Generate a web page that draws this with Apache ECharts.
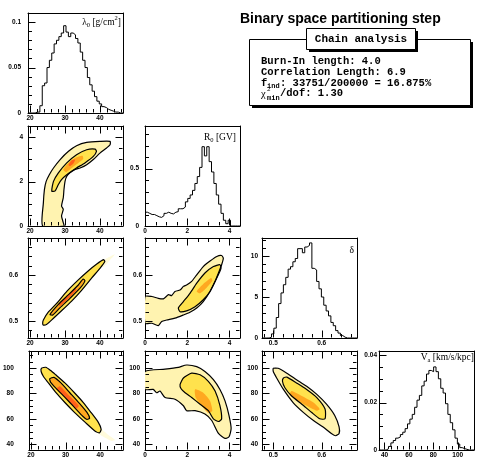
<!DOCTYPE html>
<html><head><meta charset="utf-8">
<script src="https://cdn.jsdelivr.net/npm/echarts@6/dist/echarts.min.js"></script>
<style>html,body{margin:0;padding:0;background:#fff}#c{width:478px;height:459px}</style>
</head><body><div id="c"></div>
<script>
// ---------- tick labels ----------
const lamTicks = [20, 30, 40];
const r0Ticks = [0, 2, 4];
const deltaTicks = [0.5, 0.6];
const vaTicks = [40, 60, 80, 100];
const lamHistTicks = [0, 0.05, 0.1];
const r0HistTicks = [0, 0.5];
const deltaHistTicks = [0, 5, 10];
const vaHistTicks = [0, 0.02, 0.04];

// ---------- 1D histograms (bin low edge, bin width, contents) ----------
const lamBinLow = 19.4, lamBinWidth = 0.68;
const lamHist = [0,0,0,0.001,0.001,0.008,0.030,0.033,0.050,0.058,0.066,0.076,0.080,0.084,0.088,0.096,0.089,0.084,0.088,0.086,0.082,0.077,0.067,0.058,0.050,0.039,0.031,0.024,0.018,0.013,0.010,0.007,0.006,0.004,0.003,0.002,0.001,0.001,0,0];
const r0BinLow = 0, r0BinWidth = 0.1125;
const r0Hist = [0.12,0.11,0.10,0.10,0.09,0.08,0.075,0.09,0.11,0.12,0.11,0.105,0.12,0.125,0.15,0.15,0.165,0.21,0.24,0.27,0.31,0.37,0.43,0.51,0.69,0.61,0.69,0.56,0.47,0.37,0.27,0.19,0.11,0.05,0.02,0.05,0,0,0,0];
const deltaBinLow = 0.4767, deltaBinWidth = 0.0049075;
const deltaHist = [0,0,0,0.1,0.5,1.2,2.5,4.2,5.5,6.5,7.4,8.4,8.7,9.3,9.7,10.9,10.9,10.4,11.1,11.3,11.6,8.5,8.3,6.9,6.0,5.0,4.0,3.3,2.7,1.9,1.5,0.9,0.6,0.3,0.1,0,0,0,0,0];
const vaBinLow = 35.5, vaBinWidth = 1.945;
const vaHist = [0,0,0,0.0005,0.0015,0.003,0.004,0.005,0.0055,0.0065,0.0075,0.009,0.011,0.013,0.015,0.018,0.021,0.023,0.027,0.029,0.032,0.0335,0.033,0.035,0.033,0.030,0.026,0.024,0.0195,0.015,0.0115,0.0085,0.005,0.0025,0.001,0.0006,0.0003,0,0,0];

// ---------- 2D posterior regions (contours & density cores) ----------
const lamR0Outer = [[23.6,0],[23.8,1.04],[24.1,1.64],[24.6,2.01],[25.5,2.31],[26.7,2.61],[28.6,2.99],[31.0,3.36],[33.3,3.61],[36.2,3.76],[40.0,3.81],[42.9,3.81],[42.9,3.66],[41.9,3.51],[40.0,3.28],[38.1,2.99],[36.2,2.76],[34.3,2.61],[32.9,2.54],[31.4,2.39],[30.5,2.24],[30.0,2.01],[29.7,1.64],[29.5,1.27],[29.0,0.90],[29.5,0.75],[29.0,0.45],[29.5,0.15],[29.7,0]];
const lamR0Inner = [[26.2,1.57],[26.7,2.01],[28.1,2.39],[30.5,2.84],[33.3,3.21],[36.2,3.43],[38.6,3.46],[39.0,3.36],[38.1,3.13],[35.7,2.84],[33.3,2.61],[30.5,2.31],[29.0,2.09],[28.1,1.87],[27.1,1.57]];
const lamR0Core = [[29.5,2.54],[31.0,2.84],[32.9,3.06],[35.0,3.16],[35.2,3.01],[33.8,2.84],[31.9,2.61],[30.3,2.42]];
const lamR0Hot = [[31.0,2.76],[31.9,2.96],[32.9,2.99],[32.4,2.81],[31.4,2.69]];

const lamDeltaOuter = [[23.6,0.495],[23.8,0.502],[25.2,0.519],[27.6,0.538],[30.5,0.564],[33.8,0.589],[36.7,0.609],[39.0,0.623],[41.0,0.633],[41.4,0.629],[40.0,0.614],[37.6,0.593],[34.8,0.567],[31.9,0.543],[29.0,0.522],[26.7,0.506],[24.8,0.493],[23.8,0.491]];
const lamDeltaInner = [[25.7,0.514],[28.1,0.536],[31.0,0.557],[33.8,0.578],[35.2,0.591],[35.7,0.587],[34.3,0.571],[31.4,0.549],[28.6,0.529],[26.5,0.513]];
const lamDeltaHot = [[28.1,0.536],[30.5,0.554],[32.9,0.571],[33.3,0.567],[31.0,0.549],[28.6,0.532]];
const lamDeltaTail = [[39.9,0.623],[41.9,0.636],[44.3,0.645],[43.3,0.636],[41.0,0.617]];

const r0DeltaOuter = [[0,0.553],[0.32,0.553],[0.63,0.549],[0.87,0.548],[1.11,0.557],[1.26,0.555],[1.42,0.564],[1.66,0.567],[1.82,0.575],[1.97,0.578],[2.21,0.586],[2.45,0.600],[2.76,0.618],[3.08,0.630],[3.40,0.640],[3.63,0.642],[3.71,0.636],[3.63,0.622],[3.48,0.604],[3.32,0.586],[3.08,0.564],[2.76,0.542],[2.45,0.528],[2.13,0.519],[1.82,0.513],[1.42,0.506],[1.03,0.502],[0.79,0.499],[0.63,0.490],[0.32,0.495],[0,0.495]];
const r0DeltaInner = [[1.66,0.520],[1.58,0.528],[1.82,0.542],[2.13,0.560],[2.45,0.582],[2.84,0.604],[3.24,0.618],[3.55,0.622],[3.60,0.614],[3.40,0.593],[3.08,0.564],[2.76,0.546],[2.37,0.531],[1.97,0.522]];
const r0DeltaCore = [[2.45,0.564],[2.76,0.580],[3.13,0.593],[3.19,0.587],[2.92,0.572],[2.61,0.560]];

const lamVaOuter = [[23.05,99.7],[24.29,100.5],[25.71,97.9],[27.14,94.6],[29.81,88.2],[32.57,80.5],[35.14,72.8],[37.33,65.1],[39.43,57.4],[40.29,51.8],[39.81,49.0],[38.57,50.3],[35.62,57.4],[32.57,65.1],[29.81,72.8],[27.24,80.5],[25.05,88.2],[23.62,93.3],[22.95,97.2]];
const lamVaInner = [[26.67,92.6],[28.67,88.2],[31.24,80.5],[33.81,72.8],[36.19,65.1],[36.95,60.5],[36.19,59.5],[35.05,61.8],[32.57,69.0],[29.90,76.7],[27.33,83.8],[25.71,88.7],[25.43,91.5]];
const lamVaHot = [[28.38,85.6],[30.95,78.5],[33.81,70.3],[33.14,68.2],[30.29,75.9],[27.43,83.6]];
const lamVaTail = [[38.57,50.3],[40.29,51.8],[42.38,47.2],[44.29,43.3],[43.33,42.6],[40.95,45.9]];

const r0VaOuter = [[0,97.2],[0.95,99.0],[1.58,100.5],[1.97,102.3],[2.45,101.0],[2.84,97.2],[3.24,90.8],[3.55,83.1],[3.79,74.1],[3.98,62.6],[4.08,52.3],[3.98,45.9],[3.79,44.6],[3.48,48.5],[3.16,58.7],[2.84,63.8],[2.37,66.4],[1.97,66.4],[1.82,70.3],[1.42,75.4],[0.95,76.7],[0.71,81.8],[0.55,80.5],[0.39,83.1],[0,83.1]];
const r0VaInner = [[1.66,86.9],[1.82,92.1],[2.21,95.9],[2.61,94.6],[3.0,89.5],[3.32,81.8],[3.55,70.3],[3.63,60.0],[3.48,57.9],[3.24,60.0],[3.0,66.4],[2.61,71.5],[2.21,76.7],[1.90,80.5],[1.71,83.6]];
const r0VaCore = [[2.37,83.1],[2.76,80.5],[3.08,74.1],[3.19,66.4],[3.0,64.6],[2.68,70.3],[2.4,76.7]];

const deltaVaOuter = [[0.500,99.7],[0.510,99.7],[0.528,95.9],[0.548,90.8],[0.569,85.6],[0.590,79.2],[0.610,71.5],[0.627,62.6],[0.636,53.6],[0.636,48.5],[0.629,46.7],[0.620,48.5],[0.603,53.6],[0.583,58.7],[0.562,65.1],[0.541,72.8],[0.521,83.1],[0.507,92.1],[0.500,97.2]];
const deltaVaInner = [[0.521,92.1],[0.528,92.8],[0.548,88.2],[0.569,83.1],[0.590,76.7],[0.607,67.7],[0.607,60.0],[0.596,60.0],[0.579,65.1],[0.559,71.5],[0.538,77.9],[0.524,84.4],[0.519,89.5]];
const deltaVaCore = [[0.538,81.8],[0.559,77.9],[0.583,72.8],[0.596,67.7],[0.590,66.4],[0.569,70.3],[0.545,75.4],[0.534,79.2]];

// ---------- layout / styles ----------
const W = 95, H = 100;
const colLeft = [28, 145, 262, 379];
const rowTop = [13, 126, 238, 351];
const pal = {pale:'#fffbdc', l1:'#fff3b0', l2:'#ffe24d', l3:'#ffa820', l4:'#ff5f1a'};

const AX = {
  lam: {min:19.4, max:46.6, major:lamTicks, minorStep:2, minorFrom:20},
  r0:  {min:0, max:4.5, major:r0Ticks, minorStep:0.5, minorFrom:0},
  dx:  {min:0.4767, max:0.673, major:deltaTicks, minorStep:0.02, minorFrom:0.48},
  dy:  {min:0.463, max:0.68, major:deltaTicks, minorStep:0.02, minorFrom:0.48},
  va:  {min:35.5, max:113.3, major:vaTicks, minorStep:5, minorFrom:40},
  hl:  {min:0, max:0.11, major:lamHistTicks, minorStep:0.01, minorFrom:0},
  hr:  {min:0, max:0.87, major:r0HistTicks, minorStep:0.1, minorFrom:0},
  hd:  {min:0, max:12.2, major:deltaHistTicks, minorStep:1, minorFrom:0},
  hv:  {min:0, max:0.0417, major:vaHistTicks, minorStep:0.005, minorFrom:0}
};

const panels = [
  {r:0,c:0,x:'lam',y:'hl',ym:7, hist:[lamBinLow,lamBinWidth,lamHist]},
  {r:1,c:0,x:'lam',y:'r0',ym:5, fills:[[lamR0Outer,'l1'],[lamR0Inner,'l2'],[lamR0Core,'l3'],[lamR0Hot,'l4']], lines:[lamR0Outer,lamR0Inner]},
  {r:1,c:1,x:'r0',y:'hr',ym:6, hist:[r0BinLow,r0BinWidth,r0Hist]},
  {r:2,c:0,x:'lam',y:'dy',ym:10, fills:[[lamDeltaTail,'pale'],[lamDeltaOuter,'l2'],[lamDeltaInner,'l3'],[lamDeltaHot,'l4']], lines:[lamDeltaOuter,lamDeltaInner]},
  {r:2,c:1,x:'r0',y:'dy',ym:3, fills:[[r0DeltaOuter,'l1'],[r0DeltaInner,'l2'],[r0DeltaCore,'l3']], lines:[r0DeltaOuter,r0DeltaInner]},
  {r:2,c:2,x:'dx',y:'hd',ym:4, hist:[deltaBinLow,deltaBinWidth,deltaHist]},
  {r:3,c:0,x:'lam',y:'va',ym:15, fills:[[lamVaTail,'pale'],[lamVaOuter,'l2'],[lamVaInner,'l3'],[lamVaHot,'l4']], lines:[lamVaOuter,lamVaInner]},
  {r:3,c:1,x:'r0',y:'va',ym:5, fills:[[r0VaOuter,'l1'],[r0VaInner,'l2'],[r0VaCore,'l3']], lines:[r0VaOuter,r0VaInner]},
  {r:3,c:2,x:'dx',y:'va',ym:4, fills:[[deltaVaOuter,'l1'],[deltaVaInner,'l2'],[deltaVaCore,'l3']], lines:[deltaVaOuter,deltaVaInner]},
  {r:3,c:3,x:'va',y:'hv',ym:2, hist:[vaBinLow,vaBinWidth,vaHist]}
];

const grids = [], xAxes = [], yAxes = [], series = [];

function minorVals(s) {
  const out = [];
  const n = Math.round((s.max - s.minorFrom) / s.minorStep) + 1;
  for (let i = 0; i < n; i++) {
    const v = +(s.minorFrom + i * s.minorStep).toFixed(6);
    if (v <= s.min + 1e-9 || v >= s.max - 1e-9) continue;
    if (s.major.some(m => Math.abs(m - v) < 1e-9)) continue;
    out.push(v);
  }
  return out;
}
function axis(list, g, pos, s, label, margin) {
  const o = {type:'value', gridIndex:g, position:pos, min:s.min, max:s.max,
    axisLine:{show:true, onZero:false, lineStyle:{color:'#000', width:1}},
    splitLine:{show:false}, axisTick:{show:false}, axisLabel:{show:false}};
  if (label) o.axisLabel = {show:true, customValues:s.major.slice(), margin:margin, fontSize:6.5, fontWeight:'bold', fontFamily:'Liberation Sans', color:'#000'};
  list.push(o);
  return list.length - 1;
}
function polygon(xi, yi, pts, fill, stroke, z) {
  return {type:'custom', coordinateSystem:'cartesian2d', xAxisIndex:xi, yAxisIndex:yi, clip:true, silent:true, z:z,
    data:pts, encode:{x:0, y:1},
    renderItem: function (params, api) {
      if (params.dataIndex !== 0) return null;
      const points = pts.map(q => api.coord(q));
      return {type:'polygon', shape:{points:points, smooth:0.2},
        style:{fill:fill || 'none', stroke:stroke || 'none', lineWidth:1.2, lineJoin:'round'}};
    }};
}
function histData(lo, w, vals) {
  const d = vals.map((v, i) => [lo + i * w, v]);
  d.push([lo + vals.length * w, vals[vals.length - 1]]);
  return d;
}

panels.forEach(p => {
  grids.push({left:colLeft[p.c], top:rowTop[p.r], width:W, height:H, show:false});
  const g = grids.length - 1;
  const sx = AX[p.x], sy = AX[p.y];
  const xi = axis(xAxes, g, 'bottom', sx, true, 2);
  const yi = axis(yAxes, g, 'left', sy, true, p.ym);
  axis(xAxes, g, 'top', sx, false);
  axis(yAxes, g, 'right', sy, false);
  p.xi = xi; p.yi = yi;
  if (p.hist) {
    series.push({type:'line', xAxisIndex:xi, yAxisIndex:yi, step:'end', symbol:'none', silent:true, z:3,
      data:histData(p.hist[0], p.hist[1], p.hist[2]), lineStyle:{color:'#000', width:1}});
  } else {
    p.fills.forEach((f, k) => series.push(polygon(xi, yi, f[0], pal[f[1]], null, 1 + k)));
    p.lines.forEach(l => series.push(polygon(xi, yi, l, null, '#000', 8)));
  }
});

// ---------- texts ----------
const titleText = 'Binary space partitioning step';
const paveTitle = 'Chain analysis';
const paveLines = ['Burn-In length: 4.0', 'Correlation Length: 6.9'];
const fIndText = ': 33751/200000 = 16.875%';
const chiText = '/dof: 1.30';
const serif = 'Liberation Serif';
const mono = 'Liberation Mono';
function histLabel(x, y, text) {
  return {type:'text', x:x, y:y, z:100, style:{text:text, align:'right', verticalAlign:'middle', fill:'#000',
    rich:{a:{fontSize:9.5, fontFamily:serif, lineHeight:14, fill:'#000'},
          s:{fontSize:6.5, fontFamily:serif, lineHeight:7, verticalAlign:'bottom', fill:'#000'},
          p:{fontSize:6.5, fontFamily:serif, lineHeight:7, verticalAlign:'top', fill:'#000'}}}};
}
const staticGraphic = [
  {type:'text', x:240, y:19, z:100, style:{text:titleText, font:'bold 14px "Liberation Sans"', fill:'#000', align:'left', verticalAlign:'middle'}},
  {type:'rect', z:100, shape:{x:252, y:42, width:221, height:66}, style:{fill:'#000'}},
  {type:'rect', z:101, shape:{x:249.5, y:39.5, width:221, height:66}, style:{fill:'#fff', stroke:'#000', lineWidth:1}},
  {type:'rect', z:102, shape:{x:309, y:31, width:109, height:21}, style:{fill:'#000'}},
  {type:'rect', z:103, shape:{x:306.5, y:28.5, width:109, height:21}, style:{fill:'#fff', stroke:'#000', lineWidth:1}},
  {type:'text', x:361, y:39, z:104, style:{text:paveTitle, font:'bold 11px "' + mono + '"', fill:'#000', align:'center', verticalAlign:'middle'}},
  {type:'text', x:261, y:61, z:104, style:{text:paveLines[0], font:'bold 10.5px "' + mono + '"', fill:'#000', align:'left', verticalAlign:'middle'}},
  {type:'text', x:261, y:72, z:104, style:{text:paveLines[1], font:'bold 10.5px "' + mono + '"', fill:'#000', align:'left', verticalAlign:'middle'}},
  {type:'text', x:261, y:83, z:104, style:{text:'f', font:'bold 10.5px "' + mono + '"', fill:'#000', align:'left', verticalAlign:'middle'}},
  {type:'text', x:267, y:86, z:104, style:{text:'ind', font:'bold 7px "' + mono + '"', fill:'#000', align:'left', verticalAlign:'middle'}},
  {type:'text', x:280, y:83, z:104, style:{text:fIndText, font:'bold 10.5px "' + mono + '"', fill:'#000', align:'left', verticalAlign:'middle'}},
  {type:'text', x:261, y:94, z:104, style:{text:'χ', font:'10.5px "' + serif + '"', fill:'#000', align:'left', verticalAlign:'middle'}},
  {type:'text', x:267, y:89, z:104, style:{text:'2', font:'7px "' + serif + '"', fill:'#000', align:'left', verticalAlign:'middle'}},
  {type:'text', x:267, y:98, z:104, style:{text:'min', font:'bold 7px "' + mono + '"', fill:'#000', align:'left', verticalAlign:'middle'}},
  {type:'text', x:280, y:93, z:104, style:{text:chiText, font:'bold 10.5px "' + mono + '"', fill:'#000', align:'left', verticalAlign:'middle'}},
  histLabel(121, 22, '{a|λ}{s|0}{a| [g/cm}{p|2}{a|]}'),
  histLabel(236, 137, '{a|R}{s|0}{a| [GV]}'),
  histLabel(354, 250, '{a|δ}'),
  histLabel(474, 357, '{a|V}{s|a}{a| [km/s/kpc]}')
];

const chart = echarts.init(document.getElementById('c'), null, {renderer:'canvas'});
chart.setOption({
  animation:false,
  backgroundColor:'#fff',
  grid:grids, xAxis:xAxes, yAxis:yAxes, series:series, graphic:staticGraphic
});

// inward ticks, placed through the axes' own scales (convertToPixel)
const tickGraphic = [];
function seg(x1, y1, x2, y2) {
  tickGraphic.push({type:'line', z:120, silent:true, shape:{x1:x1, y1:y1, x2:x2, y2:y2}, style:{stroke:'#000', lineWidth:1}});
}
panels.forEach(p => {
  const sx = AX[p.x], sy = AX[p.y];
  const f = {xAxisIndex:p.xi, yAxisIndex:p.yi};
  const bl = chart.convertToPixel(f, [sx.min, sy.min]);
  const tr = chart.convertToPixel(f, [sx.max, sy.max]);
  if (!bl || !tr) return;
  const L = Math.round(bl[0]) + 0.5, B = Math.round(bl[1]) - 0.5, R = Math.round(tr[0]) - 0.5, T = Math.round(tr[1]) + 0.5;
  const all = !p.hist;
  [[sx.major, 7], [minorVals(sx), 3.5]].forEach(([vals, len]) => vals.forEach(v => {
    const x = Math.round(chart.convertToPixel(f, [v, sy.min])[0]) + 0.5;
    seg(x, B, x, B - len);
    if (all) seg(x, T, x, T + len);
  }));
  [[sy.major, 7], [minorVals(sy), 3.5]].forEach(([vals, len]) => vals.forEach(v => {
    const y = Math.round(chart.convertToPixel(f, [sx.min, v])[1]) + 0.5;
    seg(L, y, L + len, y);
    if (all) seg(R, y, R - len, y);
  }));
});
chart.setOption({graphic:staticGraphic.concat(tickGraphic)});
</script></body></html>
